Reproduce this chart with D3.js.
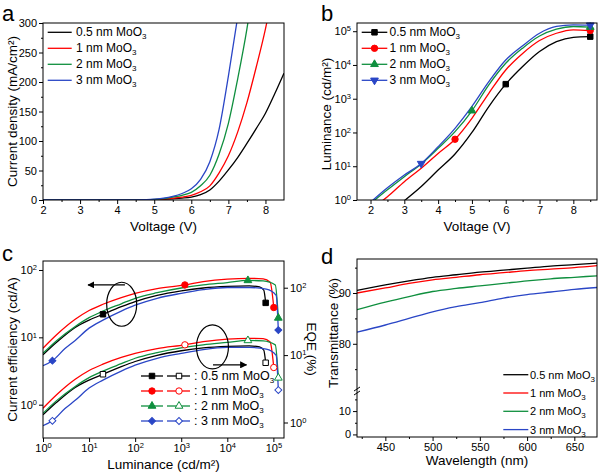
<!DOCTYPE html>
<html lang="en">
<head>
<meta charset="UTF-8">
<title>MoO3 interlayer devices</title>
<script src="https://d3js.org/d3.v7.min.js"></script>
<style>
  body { margin: 0; background: #fff; }
  svg { display: block; font-family: "Liberation Sans", Arial, sans-serif; }
  .axis text { font-size: 11px; fill: #000; }
  .axis line { stroke: #000; }
  .title { font-size: 13.5px; fill: #000; }
  .leg { fill: #000; }
  .letter { font-size: 22px; fill: #000; }
</style>
</head>
<body>
<svg id="chart" width="600" height="476"></svg>
<script>
// Series: MoO3 thickness in nm, one colour each
const thickness = ["0.5", "1", "2", "3"];
const colors = ["#000000", "#ff0000", "#0f8f3e", "#2a46c6"];

// (a) current density (mA/cm2) vs voltage (V)
const jv05 = [[2,0],[3,0],[4,0],[4.5,0.1],[5,0.5],[5.25,1],[5.5,2],[5.75,3.2],[6,5],[6.25,9],[6.5,17],[6.75,32],[7,51],[7.25,72],[7.5,96],[7.75,121],[8,147],[8.25,180],[8.5,215]];
const jv1  = [[2,0],[3,0],[4,0],[4.5,0.1],[5,0.8],[5.25,1.5],[5.5,3],[5.75,5],[6,8],[6.25,14],[6.5,24],[6.75,46],[7,75],[7.25,115],[7.5,165],[7.75,225],[8,290],[8.1,320]];
const jv2  = [[2,0],[3,0],[4,0],[4.5,0.2],[5,1],[5.25,2.5],[5.5,5],[5.75,8],[6,13],[6.25,24],[6.5,42],[6.75,78],[7,130],[7.25,205],[7.5,290],[7.6,330]];
const jv3  = [[2,0],[3,0],[4,0],[4.5,0.3],[5,1.5],[5.25,3],[5.5,6],[5.75,11],[6,19],[6.25,35],[6.5,65],[6.75,120],[7,210],[7.25,310]];

// (b) luminance (cd/m2) vs voltage (V)
const lv05 = [[3,0.95],[3.5,2.5],[4,7.7],[4.5,23],[5,100],[5.5,585],[6,2700],[6.5,9000],[7,25000],[7.5,49000],[8,66000],[8.5,69000]];
const lv1  = [[2.35,0.95],[2.5,1.25],[3,3.5],[3.5,8.7],[4,24],[4.5,63],[5,263],[5.5,1450],[6,7100],[6.5,22000],[7,53000],[7.5,87000],[8,110000],[8.5,105000]];
const lv2  = [[2.1,0.95],[2.5,2.0],[3,4.9],[3.5,11.7],[4,34],[4.5,106],[5,440],[5.5,2570],[6,11200],[6.5,31500],[7,72000],[7.5,115000],[8,138000],[8.5,132000]];
const lv3  = [[2.05,0.95],[2.5,2.3],[3,5.5],[3.5,12],[4,38],[4.5,133],[5,590],[5.5,3200],[6,14000],[6.5,37000],[7,87000],[7.5,138000],[8,155000],[8.5,151000]];
// voltages carrying a symbol
const lvMarks = [[6, 8.5], [4.5, 8.5], [5, 8.5], [3.5, 8.5]];

// (c) current efficiency (cd/A) and EQE (%) vs luminance (cd/m2)
const ce05 = [[1,5.5],[2,8.5],[5,14],[10,18],[20,22],[50,28.5],[100,34],[300,42],[1000,49],[3000,54],[1e4,57],[3e4,58],[5e4,56],[6.2e4,50],[6.8e4,32.5]];
const ce1  = [[1,6.9],[2,11],[5,18.5],[10,25],[20,31],[50,39],[100,45],[300,53],[1200,60],[3000,67],[1e4,73],[3e4,75],[6e4,74],[8.5e4,66],[1.02e5,27.7]];
const ce2  = [[1,5.8],[2,9],[5,14.5],[10,19.6],[20,24.5],[50,31.5],[100,38],[300,46],[1000,54],[3000,60],[1e4,65],[2.8e4,70],[6e4,69],[1.1e5,60],[1.28e5,19.4]];
const ce3  = [[1,3.8],[1.6,4.5],[3,6.8],[5,9],[10,13.7],[20,18],[50,24.5],[100,30],[300,38],[1000,45],[3000,51],[1e4,55],[3e4,55],[7e4,52],[1.15e5,42],[1.28e5,12.8]];
const eqe05 = [[1,1.3],[2,2.01],[5,3.31],[10,4.26],[20,5.2],[50,6.74],[100,8.04],[300,9.93],[1000,11.6],[3000,12.8],[1e4,13.5],[3e4,13.7],[5e4,13.2],[6.2e4,11.8],[6.8e4,7.7]];
const eqe1  = [[1,1.63],[2,2.6],[5,4.37],[10,5.91],[20,7.33],[50,9.22],[100,10.6],[300,12.5],[1200,14.2],[3000,15.8],[1e4,17.3],[3e4,17.7],[6e4,17.5],[8.5e4,15.6],[1.02e5,6.55]];
const eqe2  = [[1,1.37],[2,2.13],[5,3.43],[10,4.63],[20,5.79],[50,7.45],[100,8.98],[300,10.9],[1000,12.8],[3000,14.2],[1e4,15.4],[2.8e4,16.5],[6e4,16.3],[1.1e5,14.2],[1.28e5,4.59]];
const eqe3  = [[1,0.9],[1.6,1.06],[3,1.61],[5,2.13],[10,3.24],[20,4.26],[50,5.79],[100,7.09],[300,8.98],[1000,10.6],[3000,12.1],[1e4,13],[3e4,13],[7e4,12.3],[1.15e5,9.93],[1.28e5,3.03]];
// luminances carrying a symbol
const ceMarks = [[20, 6.8e4], [1200, 1.02e5], [2.8e4, 1.28e5], [1.6, 1.28e5]];

// (d) transmittance (%) vs wavelength (nm)
const wavelength = [420, 450, 475, 500, 525, 550, 575, 600, 625, 650, 675];
const tr05 = [90.5, 91.6, 92.4, 93.1, 93.6, 94.1, 94.5, 94.9, 95.3, 95.6, 95.9];
const tr1  = [90.0, 91.0, 91.9, 92.6, 93.1, 93.6, 94.0, 94.4, 94.7, 95.0, 95.4];
const tr2  = [86.7, 88.2, 89.3, 90.3, 90.9, 91.4, 91.9, 92.4, 92.8, 93.1, 93.4];
const tr3  = [82.3, 83.7, 85.0, 86.3, 87.3, 88.1, 89.0, 89.7, 90.2, 90.7, 91.1];

// tick labels
const ticksA_x = [2, 3, 4, 5, 6, 7, 8];
const ticksA_y = [0, 50, 100, 150, 200, 250, 300];
const ticksB_x = [2, 3, 4, 5, 6, 7, 8];
const ticksB_y = [1, 10, 100, 1e3, 1e4, 1e5];
const ticksC_x = [1, 10, 100, 1e3, 1e4, 1e5];
const ticksC_y = [1, 10, 100];
const ticksD_x = [450, 500, 550, 600, 650];
const ticksD_hi = [80, 90];
const ticksD_lo = [0, 10];

const svg = d3.select("#chart");
svg.append("rect").attr("width", 600).attr("height", 476).attr("fill", "#fff");
const defs = svg.append("defs");
const fmt = d3.format("d");

// plot boxes
const A = { l: 43, r: 284, t: 23, b: 200 };
const B = { l: 357, r: 597, t: 23, b: 200 };
const C = { l: 43, r: 284, t: 261, b: 438 };
const D = { l: 357, r: 597, t: 259, b: 437 };

function frame(p) {
    svg.append("rect").attr("x", p.l).attr("y", p.t)
        .attr("width", p.r - p.l).attr("height", p.b - p.t)
        .attr("fill", "none").attr("stroke", "#000").attr("stroke-width", 1);
}

function clip(id, p) {
    defs.append("clipPath").attr("id", id).append("rect")
        .attr("x", p.l).attr("y", p.t).attr("width", p.r - p.l).attr("height", p.b - p.t);
    return svg.append("g").attr("clip-path", `url(#${id})`);
}

function addAxis(axis, tx, ty) {
    return svg.append("g").attr("class", "axis")
        .attr("transform", `translate(${tx},${ty})`)
        .call(axis)
        .call(g => g.select(".domain").remove());
}

// "10" with exponent as superscript
function powLabels(g) {
    g.selectAll(".tick text").each(function (d) {
        const t = d3.select(this);
        t.text("10");
        t.append("tspan").attr("dy", "-0.5em").style("font-size", "7.5px").text(Math.round(Math.log10(d)));
    });
}

function title(text, x, y, rot) {
    return svg.append("text").attr("class", "title")
        .attr("text-anchor", "middle").attr("dy", "0.35em")
        .attr("transform", `translate(${x},${y}) rotate(${rot})`)
        .text(text);
}

// legend label "<prefix><nm> nm MoO3" with subscript 3
function moo3(x, y, prefix, nm, size) {
    const t = svg.append("text").attr("class", "leg")
        .attr("x", x).attr("y", y).style("font-size", size + "px");
    t.text(`${prefix}${nm} nm MoO`);
    t.append("tspan").attr("dy", "3").style("font-size", "8px").text("3");
}

function marker(g, type, cx, cy, color, filled) {
    let sym = d3.symbolSquare, size = 30, rot = 0;
    if (type === "circle") { sym = d3.symbolCircle; size = 32; }
    if (type === "triangle") { sym = d3.symbolTriangle; size = 26; }
    if (type === "triangleDown") { sym = d3.symbolTriangle; size = 26; rot = 180; }
    if (type === "diamond") { sym = d3.symbolSquare; size = 24; rot = 45; }
    g.append("path")
        .attr("d", d3.symbol().type(sym).size(size)())
        .attr("transform", `translate(${cx},${cy}) rotate(${rot})`)
        .attr("fill", filled ? color : "#fff")
        .attr("stroke", color).attr("stroke-width", 1);
}

// ---------- (a) J-V ----------
const xa = d3.scaleLinear().domain([2, 8.5]).range([A.l, A.r]);
const ya = d3.scaleLinear().domain([0, 300]).range([A.b, A.t]);
const gA = clip("clipA", A);
const lineA = d3.line().x(d => xa(d[0])).y(d => ya(d[1])).curve(d3.curveMonotoneX);
[jv05, jv1, jv2, jv3].forEach((s, i) => {
    gA.append("path").attr("d", lineA(s)).attr("fill", "none")
        .attr("stroke", colors[i]).attr("stroke-width", 1.3);
});
addAxis(d3.axisBottom(xa).tickValues(ticksA_x).tickFormat(fmt).tickSize(4).tickPadding(2), 0, A.b);
addAxis(d3.axisBottom(xa).tickValues(d3.range(2.5, 8.5, 1)).tickSize(2).tickFormat(""), 0, A.b);
addAxis(d3.axisLeft(ya).tickValues(ticksA_y).tickFormat(fmt).tickSize(4).tickPadding(2), A.l, 0);
addAxis(d3.axisLeft(ya).tickValues(d3.range(25, 300, 50)).tickSize(2).tickFormat(""), A.l, 0);
frame(A);
title("Voltage (V)", (A.l + A.r) / 2, 226, 0);
title("Current density (mA/cm²)", 12, 111.5, -90);
thickness.forEach((nm, i) => {
    const y = 32.3 + i * 16;
    svg.append("line").attr("x1", 47.7).attr("x2", 71.7).attr("y1", y).attr("y2", y)
        .attr("stroke", colors[i]).attr("stroke-width", 1.3);
    moo3(76, y + 4, "", nm, 12);
});

// ---------- (b) L-V ----------
const xb = d3.scaleLinear().domain([1.6, 8.7]).range([B.l, B.r]);
const yb = d3.scaleLog().domain([1, 1.75e5]).range([B.b, B.t]);
const gB = clip("clipB", B);
const lineB = d3.line().x(d => xb(d[0])).y(d => yb(d[1])).curve(d3.curveMonotoneX);
const bSymbols = ["square", "circle", "triangle", "triangleDown"];
[lv05, lv1, lv2, lv3].forEach((s, i) => {
    gB.append("path").attr("d", lineB(s)).attr("fill", "none")
        .attr("stroke", colors[i]).attr("stroke-width", 1.3);
    s.filter(d => lvMarks[i].includes(d[0])).forEach(d => {
        marker(svg, bSymbols[i], xb(d[0]), yb(d[1]), colors[i], true);
    });
});
addAxis(d3.axisBottom(xb).tickValues(ticksB_x).tickFormat(fmt).tickSize(4).tickPadding(2), 0, B.b);
addAxis(d3.axisBottom(xb).tickValues(d3.range(2.5, 8.6, 1)).tickSize(2).tickFormat(""), 0, B.b);
addAxis(d3.axisLeft(yb).tickValues(ticksB_y).tickSize(4).tickPadding(2), B.l, 0).call(powLabels);
frame(B);
title("Voltage (V)", (B.l + B.r) / 2, 226, 0);
title("Luminance (cd/m²)", 326, 114, -90);
thickness.forEach((nm, i) => {
    const y = 32.3 + i * 16;
    svg.append("line").attr("x1", 361.7).attr("x2", 387.3).attr("y1", y).attr("y2", y)
        .attr("stroke", colors[i]).attr("stroke-width", 1.3);
    marker(svg, bSymbols[i], 374.5, y, colors[i], true);
    moo3(389.5, y + 4, "", nm, 12);
});

// ---------- (c) CE / EQE ----------
const xc = d3.scaleLog().domain([1, 1.7e5]).range([C.l, C.r]);
const ycL = d3.scaleLog().domain([0.32, 136]).range([C.b, C.t]);
const ycR = d3.scaleLog().domain([0.589, 249]).range([C.b, C.t]);
const gC = clip("clipC", C);
const cSymbols = ["square", "circle", "triangle", "diamond"];
const ceSeries = [ce05, ce1, ce2, ce3];
const eqeSeries = [eqe05, eqe1, eqe2, eqe3];
ceSeries.forEach((s, i) => {
    const lineL = d3.line().x(d => xc(d[0])).y(d => ycL(d[1])).curve(d3.curveMonotoneX);
    const lineR = d3.line().x(d => xc(d[0])).y(d => ycR(d[1])).curve(d3.curveMonotoneX);
    gC.append("path").attr("d", lineL(s)).attr("fill", "none")
        .attr("stroke", colors[i]).attr("stroke-width", 1.3);
    gC.append("path").attr("d", lineR(eqeSeries[i])).attr("fill", "none")
        .attr("stroke", colors[i]).attr("stroke-width", 1.3);
    s.filter(d => ceMarks[i].includes(d[0])).forEach(d => {
        marker(svg, cSymbols[i], xc(d[0]), ycL(d[1]), colors[i], true);
    });
    eqeSeries[i].filter(d => ceMarks[i].includes(d[0])).forEach(d => {
        marker(svg, cSymbols[i], xc(d[0]), ycR(d[1]), colors[i], false);
    });
});

// ellipses with arrows pointing to their axes
defs.append("marker").attr("id", "arrow").attr("viewBox", "0 0 10 10")
    .attr("refX", 9).attr("refY", 5).attr("markerWidth", 7).attr("markerHeight", 7)
    .attr("markerUnits", "userSpaceOnUse").attr("orient", "auto")
    .append("path").attr("d", "M0,0 L10,5 L0,10 z").attr("fill", "#000");
svg.append("ellipse").attr("cx", xc(51)).attr("cy", ycL(31)).attr("rx", 15).attr("ry", 22)
    .attr("fill", "none").attr("stroke", "#000").attr("stroke-width", 1.2);
svg.append("line").attr("x1", xc(60)).attr("x2", xc(9.5)).attr("y1", ycL(60)).attr("y2", ycL(60))
    .attr("stroke", "#000").attr("stroke-width", 1.2).attr("marker-end", "url(#arrow)");
svg.append("ellipse").attr("cx", xc(4760)).attr("cy", ycL(7.2)).attr("rx", 16).attr("ry", 22)
    .attr("fill", "none").attr("stroke", "#000").attr("stroke-width", 1.2);
svg.append("line").attr("x1", xc(4900)).attr("x2", xc(2.6e4)).attr("y1", ycL(3.9)).attr("y2", ycL(3.9))
    .attr("stroke", "#000").attr("stroke-width", 1.2).attr("marker-end", "url(#arrow)");

addAxis(d3.axisBottom(xc).tickValues(ticksC_x).tickSize(4).tickPadding(2), 0, C.b).call(powLabels);
addAxis(d3.axisLeft(ycL).tickValues(ticksC_y).tickSize(4).tickPadding(2), C.l, 0).call(powLabels);
addAxis(d3.axisRight(ycR).tickValues(ticksC_y).tickSize(4).tickPadding(2), C.r, 0).call(powLabels);
frame(C);
title("Luminance (cd/m²)", (C.l + C.r) / 2, 464, 0);
title("Current efficiency (cd/A)", 12, 349.5, -90);
title("EQE (%)", 311.7, 349, 90);
thickness.forEach((nm, i) => {
    const y = 376 + i * 15;
    svg.append("line").attr("x1", 141).attr("x2", 163).attr("y1", y).attr("y2", y)
        .attr("stroke", colors[i]).attr("stroke-width", 1.3);
    svg.append("line").attr("x1", 167).attr("x2", 190).attr("y1", y).attr("y2", y)
        .attr("stroke", colors[i]).attr("stroke-width", 1.3);
    marker(svg, cSymbols[i], 152, y, colors[i], true);
    marker(svg, cSymbols[i], 179, y, colors[i], false);
    moo3(194, y + 4, ": ", nm, 12.5);
});

// ---------- (d) transmittance, broken y axis ----------
const xd = d3.scaleLinear().domain([420, 674]).range([D.l, D.r]);
const yBreak = 391;
const ydU = d3.scaleLinear().domain([70.7, 96.7]).range([yBreak, D.t]);
const ydL = d3.scaleLinear().domain([-1.1, 18.6]).range([D.b, yBreak]);
const gD = clip("clipD", D);
const lineD = d3.line().x((d, j) => xd(wavelength[j])).y(d => ydU(d)).curve(d3.curveMonotoneX);
[tr05, tr1, tr2, tr3].forEach((s, i) => {
    gD.append("path").attr("d", lineD(s)).attr("fill", "none")
        .attr("stroke", colors[i]).attr("stroke-width", 1.3);
});
addAxis(d3.axisBottom(xd).tickValues(ticksD_x).tickFormat(fmt).tickSize(4).tickPadding(2), 0, D.b);
addAxis(d3.axisBottom(xd).tickValues(d3.range(425, 675, 50)).tickSize(2).tickFormat(""), 0, D.b);
addAxis(d3.axisLeft(ydU).tickValues(ticksD_hi).tickFormat(fmt).tickSize(4).tickPadding(2), D.l, 0);
addAxis(d3.axisLeft(ydU).tickValues([75, 85, 95]).tickSize(2).tickFormat(""), D.l, 0);
addAxis(d3.axisLeft(ydL).tickValues(ticksD_lo).tickFormat(fmt).tickSize(4).tickPadding(2), D.l, 0);
addAxis(d3.axisLeft(ydL).tickValues([5, 15]).tickSize(2).tickFormat(""), D.l, 0);
frame(D);
// break marks on the left axis
[-2, 2].forEach(o => {
    svg.append("line").attr("x1", D.l - 3).attr("x2", D.l + 3)
        .attr("y1", yBreak + o + 2).attr("y2", yBreak + o - 2)
        .attr("stroke", "#000").attr("stroke-width", 1);
});
title("Wavelength (nm)", (D.l + D.r) / 2, 460, 0);
title("Transmittance (%)", 333, 333, -90);
thickness.forEach((nm, i) => {
    const y = 374.7 + i * 18.3;
    svg.append("line").attr("x1", 503.3).attr("x2", 528.3).attr("y1", y).attr("y2", y)
        .attr("stroke", colors[i]).attr("stroke-width", 1.3);
    moo3(530, y + 4, "", nm, 11);
});

// panel letters
[["a", 2, 21], ["b", 321, 21], ["c", 2, 261], ["d", 321, 264]].forEach(([t, x, y]) => {
    svg.append("text").attr("class", "letter").attr("x", x).attr("y", y).text(t);
});
</script>
</body>
</html>
